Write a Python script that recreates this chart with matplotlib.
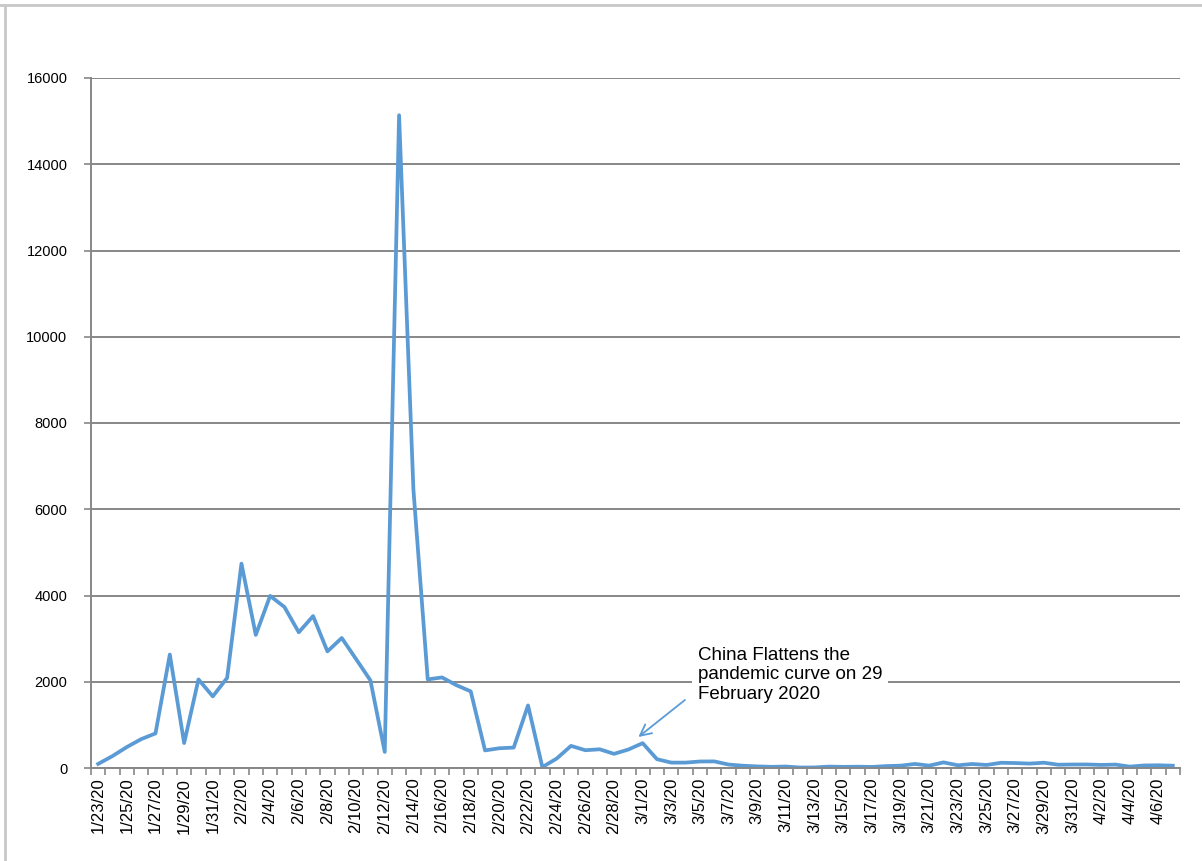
import numpy as np
import matplotlib
matplotlib.use("Agg")
import matplotlib.pyplot as plt
from matplotlib.lines import Line2D

plt.rcParams['font.family'] = ['Liberation Sans', 'DejaVu Sans']

# daily new confirmed cases, China, 1/23/20 .. 4/7/20
month_spans = [("1", 23, 31), ("2", 1, 29), ("3", 1, 31), ("4", 1, 7)]
dates = []
for m, d0, d1 in month_spans:
    for d in range(d0, d1 + 1):
        dates.append(f"{m}/{d}/20")

new_cases = [
    95, 277, 486, 669, 802, 2632, 578, 2054, 1661,
    2089, 4739, 3086, 3991, 3733, 3147, 3523, 2704, 3015, 2525,
    2032, 373, 15136, 6463, 2055, 2100, 1921, 1777, 408, 458,
    473, 1451, 21, 219, 513, 412, 434, 328, 428,
    576, 204, 125, 125, 151, 153, 80, 53, 37, 27,
    34, 11, 13, 32, 26, 30, 25, 44, 54, 94,
    55, 130, 63, 93, 70, 121, 115, 102, 123, 76,
    81, 82, 71, 79, 32, 59, 63, 53,
]

annotation = "China Flattens the\npandemic curve on 29\nFebruary 2020"

grey = "#878787"
blue = "#5B9BD5"

fig = plt.figure(figsize=(12.02, 8.61), dpi=100)
ax = fig.add_axes([91 / 1202, 1 - 768 / 861, (1180 - 91) / 1202, (768 - 78) / 861])

x = np.arange(len(new_cases))
ax.plot(x, new_cases, color=blue, lw=2.7)

ax.set_xlim(-0.5, len(new_cases) - 0.5)
ax.set_ylim(0, 16000)
ax.set_yticks(np.arange(0, 16001, 2000))
ax.yaxis.grid(True, color=grey, lw=1.4)
ax.set_axisbelow(True)

ax.set_xticks(x[::2])
ax.set_xticklabels(dates[::2], rotation=90, fontsize=12)
ax.set_xticks(np.arange(-0.5, len(new_cases), 1), minor=True)
ax.tick_params(axis="x", which="major", length=0, pad=7)
ax.tick_params(axis="x", which="minor", length=5, width=1.2, color=grey)
ax.tick_params(axis="y", length=5, width=1.2, color=grey, labelsize=10.5, pad=12)

for s in ("top", "right"):
    ax.spines[s].set_visible(False)
for s in ("left", "bottom"):
    ax.spines[s].set_color(grey)
    ax.spines[s].set_linewidth(1.4)

ax.annotate("", xy=(37.7, 719), xytext=(40.95, 1577),
            arrowprops=dict(arrowstyle="->", color=blue, lw=1.3,
                            mutation_scale=20, shrinkA=0, shrinkB=0))
ax.text(0.5575, 0.176, annotation, transform=ax.transAxes, fontsize=13.5,
        linespacing=1.22, va="top", ha="left",
        bbox=dict(facecolor="white", edgecolor="none", pad=4))

# frame lines along the top and left edge
fig.add_artist(Line2D([0, 1], [1 - 5 / 861] * 2, color="#c8c8c8", lw=2,
                      transform=fig.transFigure))
fig.add_artist(Line2D([5 / 1202] * 2, [0, 1 - 5 / 861], color="#c8c8c8", lw=2,
                      transform=fig.transFigure))

fig.savefig("out.png", dpi=100)
